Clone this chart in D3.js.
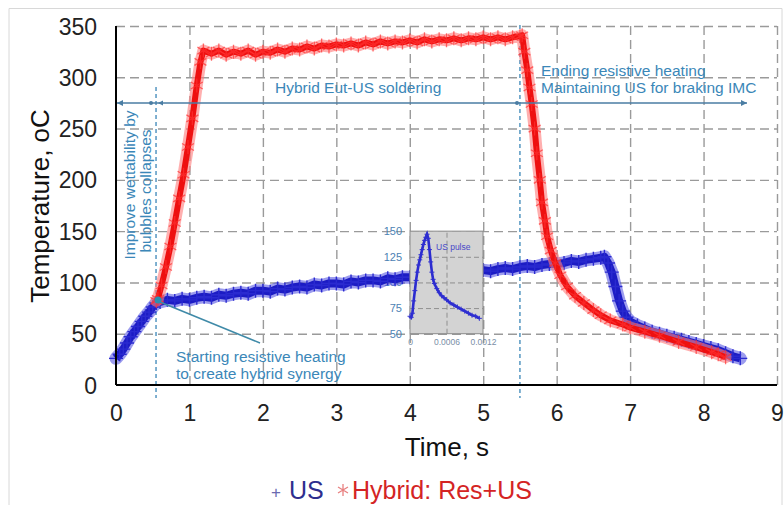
<!DOCTYPE html>
<html><head><meta charset="utf-8">
<script src="https://cdn.jsdelivr.net/npm/d3@7"></script>
<style>body{margin:0;background:#fff}svg{display:block}text{font-family:"Liberation Sans",Arial,sans-serif}</style>
</head><body><svg id="c" width="784" height="505"></svg>
<script>
// ---- data ----
const xTicks = [0,1,2,3,4,5,6,7,8,9];
const yTicks = [0,50,100,150,200,250,300,350];
const usTime = [0,0.05,0.1,0.15,0.2,0.25,0.3,0.35,0.4,0.45,0.5,0.55,0.6,0.7,0.8,0.9,1.0,1.1,1.2,1.3,1.4,1.5,1.6,1.7,1.8,1.9,2.0,2.1,2.2,2.3,2.4,2.5,2.6,2.7,2.8,2.9,3.0,3.1,3.2,3.3,3.4,3.5,3.6,3.7,3.8,3.9,4.0,4.2,4.4,4.6,4.8,5.0,5.1,5.2,5.3,5.4,5.5,5.6,5.7,5.8,5.9,6.0,6.1,6.2,6.3,6.4,6.5,6.6,6.65,6.7,6.75,6.8,6.85,6.9,6.95,7.0,7.1,7.2,7.3,7.4,7.5,7.6,7.7,7.8,7.9,8.0,8.1,8.2,8.3,8.4,8.5];
const usTemp = [26,30,35,41,47,52,57,62,67,71,76,80,81,83,82,84,83,85,86,85,88,87,89,90,89,92,92,91,94,93,95,96,95,98,97,99,99,98,101,100,102,102,101,104,103,105,105,106,107,109,110,112,111,113,114,113,115,116,115,117,118,118,119,121,120,122,123,124,125,119,110,96,82,72,66,62,58,55,52,50,48,46,44,42,40,38,36,34,31,28,26];
const hyTime = [0.55,0.57,0.62,0.68,0.74,0.8,0.86,0.92,0.98,1.04,1.1,1.15,1.19,1.3,1.4,1.5,1.6,1.7,1.8,1.9,2.0,2.1,2.2,2.3,2.4,2.5,2.6,2.7,2.8,2.9,3.0,3.1,3.2,3.3,3.4,3.5,3.6,3.7,3.8,3.9,4.0,4.1,4.2,4.3,4.4,4.5,4.6,4.7,4.8,4.9,5.0,5.1,5.2,5.3,5.4,5.5,5.53,5.56,5.6,5.63,5.66,5.7,5.73,5.77,5.8,5.84,5.87,5.92,5.98,6.05,6.14,6.25,6.37,6.5,6.6,6.73,6.9,7.0,7.2,7.4,7.66,7.9,8.11,8.2,8.3];
const hyTemp = [82,84,97,115,135,158,182,205,232,260,292,315,326,323,326,322,325,323,326,322,325,324,327,325,328,327,330,328,331,330,332,331,333,331,334,332,335,333,335,334,336,334,337,335,337,336,338,336,338,337,339,337,339,337,339,340,341,325,307,290,274,250,226,200,178,160,145,131,119,107,96,87,80,73,68,63,59,56,52,48,42,37,32,30,27];
const pulseTime = [0,0.00002,0.00004,0.00006,0.00008,0.0001,0.00012,0.00014,0.00016,0.00018,0.0002,0.00022,0.00024,0.00026,0.00028,0.0003,0.00032,0.00034,0.00036,0.00038,0.0004,0.00044,0.00048,0.00052,0.00056,0.0006,0.00066,0.00072,0.00078,0.00084,0.0009,0.00096,0.00102,0.00108,0.00114];
const pulseTemp = [67,66,70,82,92,102,110,117,122,127,132,137,141,144,147,143,132,120,110,103,99,94,90,87,85,83,80,78,76,74,72,70,68,67,65];
const insetXTicks = [0,0.0006,0.0012];
const insetXLabels = ["0","0.0006","0.0012"];
const insetYTicks = [50,75,100,125,150];
const seriesNames = ["US","Hybrid: Res+US"];

// ---- drawing ----
const svg = d3.select("#c");
svg.append("rect").attr("width",784).attr("height",505).attr("fill","#fff");
svg.append("path").attr("d","M9,505V8.5H782V505").attr("fill","none").attr("stroke","#d8d8d8").attr("stroke-width",1);

const x = d3.scaleLinear().domain([0,9]).range([116,777]);
const y = d3.scaleLinear().domain([0,350]).range([385,26]);
const H = 385-26, W = 777-116;

// grid
const gx = svg.append("g").attr("transform","translate(0,385)")
  .call(d3.axisBottom(x).tickValues(xTicks.slice(1)).tickSize(-H).tickFormat(""));
const gy = svg.append("g").attr("transform","translate(116,0)")
  .call(d3.axisLeft(y).tickValues(yTicks.slice(1)).tickSize(-W).tickFormat(""));
[gx,gy].forEach(g=>{g.select(".domain").remove();
  g.selectAll("line").attr("stroke","#9a9a9a").attr("stroke-width",1.4).attr("stroke-dasharray","9,5");});

// tick labels
const lx = svg.append("g").attr("transform","translate(0,385)")
  .call(d3.axisBottom(x).tickValues(xTicks).tickSize(0).tickFormat(d3.format("d")));
lx.select(".domain").remove();
lx.selectAll("text").attr("y",36).attr("dy",0).attr("font-size",23).attr("fill","#222").style("font-family","Liberation Sans, Arial");
const ly = svg.append("g").attr("transform","translate(116,0)")
  .call(d3.axisLeft(y).tickValues(yTicks).tickSize(0).tickFormat(d3.format("d")));
ly.select(".domain").remove();
ly.selectAll("text").attr("x",-19).attr("dy","0.35em").attr("font-size",23).attr("fill","#222").style("font-family","Liberation Sans, Arial");

// axis titles
svg.append("text").attr("x",447).attr("y",456).attr("text-anchor","middle").attr("font-size",26).attr("fill","#111").text("Time, s");
svg.append("text").attr("transform","translate(49,206) rotate(-90)").attr("text-anchor","middle").attr("font-size",26).attr("fill","#111").text("Temperature, oC");

// inset y labels (behind series)
const yi = d3.scaleLinear().domain([50,150]).range([y(50),y(150)]);
const xi = d3.scaleLinear().domain([0,0.0012]).range([410,483]);
const iyl = svg.append("g").attr("transform","translate(410,0)")
  .call(d3.axisLeft(yi).tickValues(insetYTicks).tickSize(0).tickPadding(8));
iyl.select(".domain").remove();
iyl.selectAll("text").attr("font-size",11).attr("fill","#4d82b4").style("font-family","Liberation Sans, Arial");

// annotation vertical dashed lines
const annoCol = "#3b87b8";
svg.append("line").attr("x1",x(0.545)).attr("x2",x(0.545)).attr("y1",87).attr("y2",398).attr("stroke",annoCol).attr("stroke-width",1.3).attr("stroke-dasharray","4,3");
svg.append("line").attr("x1",x(5.5)).attr("x2",x(5.5)).attr("y1",25).attr("y2",398).attr("stroke",annoCol).attr("stroke-width",1.3).attr("stroke-dasharray","4,3");

// series
const line = d3.line().x(d=>x(d[0])).y(d=>y(d[1]));
const usData = usTime.map((t,i)=>[t,usTemp[i]]);
const hyData = hyTime.map((t,i)=>[t,hyTemp[i]]);

// US: halo + core + plus markers
svg.append("path").datum(usData).attr("d",line).attr("fill","none").attr("stroke","#4a4ae0").attr("stroke-opacity",0.55).attr("stroke-width",13).attr("stroke-linejoin","round").attr("stroke-linecap","round");
svg.append("path").datum(usData).attr("d",line).attr("fill","none").attr("stroke","#1c1cc4").attr("stroke-width",8).attr("stroke-linejoin","round");
svg.append("g").selectAll("path").data(usData).join("path")
  .attr("transform",d=>`translate(${x(d[0])},${y(d[1])})`)
  .attr("d","M-7,0H7M0,-7V7").attr("stroke","#2a2ad0").attr("stroke-width",1.4).attr("fill","none");

// Hybrid: halo + core + asterisk markers
svg.append("path").datum(hyData).attr("d",line).attr("fill","none").attr("stroke","#ff7a7a").attr("stroke-opacity",0.6).attr("stroke-width",12).attr("stroke-linejoin","round").attr("stroke-linecap","round");
svg.append("path").datum(hyData).attr("d",line).attr("fill","none").attr("stroke","#ee1010").attr("stroke-width",6).attr("stroke-linejoin","round");
svg.append("g").selectAll("path").data(hyData).join("path")
  .attr("transform",d=>`translate(${x(d[0])},${y(d[1])})`)
  .attr("d","M0,-7V7M-6,-3.5L6,3.5M-6,3.5L6,-3.5").attr("stroke","#ff3030").attr("stroke-opacity",0.7).attr("stroke-width",1.3).attr("fill","none");

// axes lines
svg.append("line").attr("x1",116).attr("x2",116).attr("y1",26).attr("y2",385).attr("stroke","#000").attr("stroke-width",2);
svg.append("line").attr("x1",116).attr("x2",777).attr("y1",385).attr("y2",385).attr("stroke","#000").attr("stroke-width",2);

// inset
svg.append("rect").attr("x",410).attr("y",yi(150)).attr("width",73).attr("height",yi(50)-yi(150)).attr("fill","#d3d3d3").attr("stroke","#8a8a8a").attr("stroke-width",1);
const igx = svg.append("g").attr("transform",`translate(0,${yi(50)})`)
  .call(d3.axisBottom(xi).tickValues([0.0006]).tickSize(-(yi(50)-yi(150))).tickFormat(""));
const igy = svg.append("g").attr("transform","translate(410,0)")
  .call(d3.axisLeft(yi).tickValues([75,100,125]).tickSize(-73).tickFormat(""));
[igx,igy].forEach(g=>{g.select(".domain").remove();g.selectAll("line").attr("stroke","#8f8f8f").attr("stroke-width",1).attr("stroke-dasharray","5,3");});
const ixl = svg.append("g").attr("transform",`translate(0,${yi(50)})`)
  .call(d3.axisBottom(xi).tickValues(insetXTicks).tickSize(0).tickPadding(5).tickFormat((d,i)=>insetXLabels[i]));
ixl.select(".domain").remove();
ixl.selectAll("text").attr("font-size",8.5).attr("fill","#7a8ea6").style("font-family","Liberation Sans, Arial");
const pulseData = pulseTime.map((t,i)=>[t,pulseTemp[i]]);
const iline = d3.line().x(d=>xi(d[0])).y(d=>yi(d[1]));
svg.append("path").datum(pulseData).attr("d",iline).attr("fill","none").attr("stroke","#2b2bd0").attr("stroke-width",2.6);
svg.append("g").selectAll("path").data(pulseData).join("path")
  .attr("transform",d=>`translate(${xi(d[0])},${yi(d[1])})`)
  .attr("d","M-2.5,0H2.5M0,-2.5V2.5").attr("stroke","#3030d0").attr("stroke-width",1).attr("fill","none");
svg.append("text").attr("x",436).attr("y",250).attr("font-size",8.5).attr("fill","#4848c8").text("US pulse");

// annotations
const arrowCol = "#4a7da3";
svg.append("line").attr("x1",117).attr("x2",747).attr("y1",103).attr("y2",103).attr("stroke",arrowCol).attr("stroke-width",1.5);
svg.append("path").attr("d","M117,103l6,-3v6z M747,103l-6,-3v6z M158,103l5,-2.5v5z").attr("fill",arrowCol);
[151,517].forEach(px=>svg.append("circle").attr("cx",px).attr("cy",103).attr("r",2).attr("fill",arrowCol));
const at = (tx,ty,s,rot)=>svg.append("text").attr("transform",`translate(${tx},${ty})`+(rot?" rotate(-90)":"")).attr("font-size",15.5).attr("fill",annoCol).attr("text-anchor",rot?"middle":"start").text(s);
at(275,93,"Hybrid Eut-US soldering");
at(541,76,"Ending resistive heating");
at(541,93,"Maintaining US for braking IMC");
at(135,185,"Improve wettability by",true);
at(151,191,"bubbles collapses",true);
at(176,362,"Starting resistive heating");
at(176,379,"to create hybrid synergy");
svg.append("line").attr("x1",160).attr("y1",302).attr("x2",260).attr("y2",343).attr("stroke","#3f8aa8").attr("stroke-width",1.5);
svg.append("circle").attr("cx",158).attr("cy",300).attr("r",3.5).attr("fill","#2b8fb0");

// legend
const lg = svg.append("g").attr("font-size",25);
lg.append("text").attr("x",271).attr("y",498).attr("font-size",17).attr("fill","#6a6ab0").text("+");
lg.append("text").attr("x",289).attr("y",499).attr("fill","#2e2e8e").text(seriesNames[0]);
lg.append("path").attr("transform","translate(343,490)").attr("d","M0,-6V6M-5,-3L5,3M-5,3L5,-3").attr("stroke","#e88080").attr("stroke-width",1.3).attr("fill","none");
lg.append("text").attr("x",352).attr("y",499).attr("fill","#d42424").text(seriesNames[1]);
</script></body></html>
